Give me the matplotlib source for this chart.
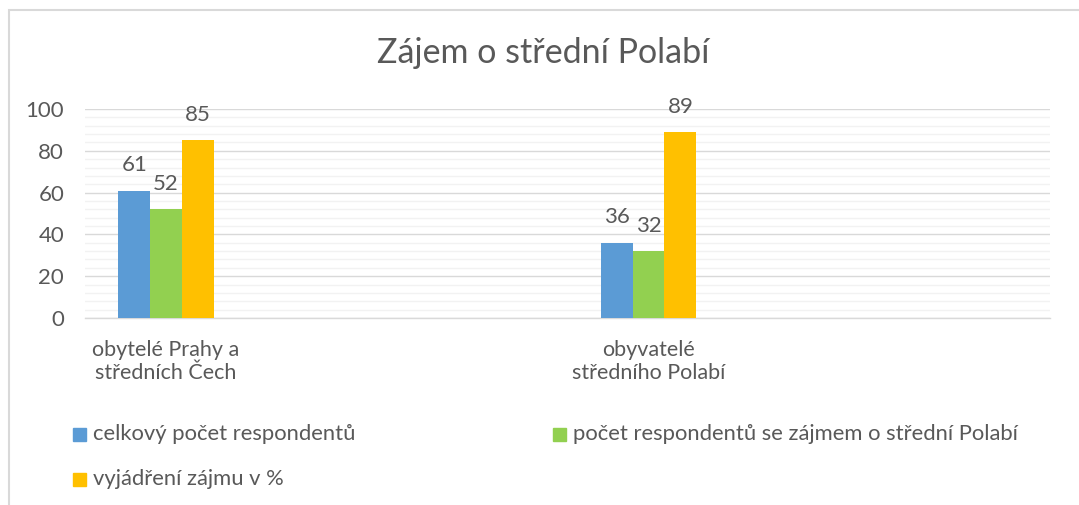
import matplotlib.pyplot as plt
from matplotlib.patches import Rectangle
from matplotlib.ticker import MultipleLocator

# data
categories = ['obytelé Prahy a\nstředních Čech', 'obyvatelé\nstředního Polabí']
series = ['celkový počet respondentů',
          'počet respondentů se zájmem o střední Polabí',
          'vyjádření zájmu v %']
celkovy = [61, 36]
zajem = [52, 32]
procenta = [85, 89]
colors = ['#5B9BD5', '#92D050', '#FFC000']
text_col = '#595959'

plt.rcParams['font.family'] = ['Lato', 'DejaVu Sans']

W, H = 1079, 505
fig = plt.figure(figsize=(W / 100, H / 100), dpi=100)
ax = fig.add_axes([85 / W, 1 - 318 / H, (1050 - 85) / W, (318 - 109) / H])

bw = 0.066
offset = 0.168  # group sits left of the slot centre, like in the original
values = [celkovy, zajem, procenta]
for i, (name, vals, c) in enumerate(zip(series, values, colors)):
    xs = [k + offset + (i - 1) * bw for k in range(len(categories))]
    bars = ax.bar(xs, vals, width=bw, color=c, label=name, zorder=3)
    for b, v in zip(bars, vals):
        ax.annotate(str(v), (b.get_x() + b.get_width() / 2, v), xytext=(0, 11),
                    textcoords='offset points', ha='center', va='bottom',
                    fontsize=16, color=text_col)

ax.set_xlim(0, 2)
ax.set_ylim(0, 100)
ax.set_xticks([k + offset for k in range(len(categories))])
ax.set_xticklabels(categories, fontsize=15.5, color=text_col, linespacing=1.2)
ax.yaxis.set_major_locator(MultipleLocator(20))
ax.yaxis.set_minor_locator(MultipleLocator(4))
ax.tick_params(axis='y', which='both', length=0, pad=15, labelsize=16, labelcolor=text_col)
ax.tick_params(axis='x', length=0, pad=16)
ax.grid(axis='y', which='minor', color='#f2f2f2', lw=1.0, zorder=0)
ax.grid(axis='y', which='major', color='#d9d9d9', lw=1.0, zorder=1)
for s in ['left', 'right', 'top']:
    ax.spines[s].set_visible(False)
ax.spines['bottom'].set_color('#d9d9d9')
ax.spines['bottom'].set_linewidth(1.0)

fig.text(543 / W, 1 - 63 / H, 'Zájem o střední Polabí', ha='center', va='baseline',
         fontsize=24.5, color=text_col)

# legend, laid out like the Excel one
leg_pos = [(73, 428), (553, 428), (73, 473)]
for (x, y), name, c in zip(leg_pos, series, colors):
    fig.patches.append(Rectangle((x / W, 1 - (y + 13) / H), 13 / W, 13 / H,
                                 transform=fig.transFigure, color=c))
    fig.text((x + 20) / W, 1 - (y + 6) / H, name, ha='left', va='center',
             fontsize=15.8, color=text_col)

# chart border (cut off on the right and bottom)
fig.patches.append(Rectangle((9 / W, -0.1), 1.2, 1 - 10 / H + 0.1, transform=fig.transFigure,
                             fill=False, edgecolor='#d9d9d9', lw=1.5))

fig.savefig('out.png', dpi=100)
